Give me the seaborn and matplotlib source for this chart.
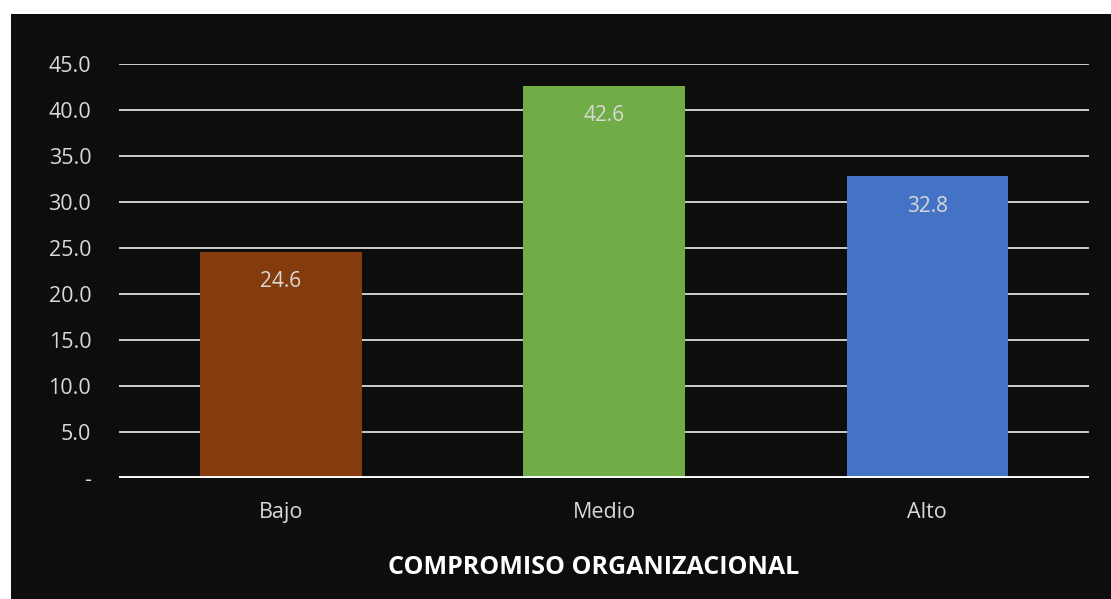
import matplotlib
matplotlib.use('Agg')
import matplotlib.pyplot as plt
import seaborn as sns
import pandas as pd
from matplotlib.patches import Rectangle

# data
niveles = ['Bajo', 'Medio', 'Alto']
porcentajes = [24.6, 42.6, 32.8]
colores = ['#843C0C', '#70AD47', '#4472C4']
y_ticks = [0, 5, 10, 15, 20, 25, 30, 35, 40, 45]
y_labels = ['-'] + [f'{t:.1f}' for t in y_ticks[1:]]

df = pd.DataFrame({'Nivel': niveles, 'Porcentaje': porcentajes})

sns.set_style("dark")
plt.rcParams['font.family'] = ['Open Sans', 'DejaVu Sans']

fig = plt.figure(figsize=(11.11, 5.99), dpi=100)
fig.patch.set_facecolor('white')
# dark panel (leaves a thin white margin at top and left)
fig.add_artist(Rectangle((11 / 1111, 0), 1 - 11 / 1111, 1 - 14 / 599,
                         transform=fig.transFigure, facecolor='#0d0d0d',
                         edgecolor='none', zorder=-10))

ax = fig.add_axes([119 / 1111, 1 - 478 / 599, 970 / 1111, 414 / 599])
ax.set_facecolor('none')

sns.barplot(data=df, x='Nivel', y='Porcentaje', hue='Nivel', palette=colores,
            width=0.5, legend=False, ax=ax, zorder=3, saturation=1,
            linewidth=0, edgecolor='none')

for c in ax.containers:
    ax.bar_label(c, fmt='%.1f', padding=-29, color='#d9d9d9', fontsize=15)

ax.set_ylim(0, 45)
ax.set_xlim(-0.5, 2.5)
ax.set_yticks(y_ticks)
ax.set_yticklabels(y_labels)
ax.set_axisbelow(True)
ax.yaxis.grid(True, color='white', linewidth=1.1)
ax.xaxis.grid(False)
ax.axhline(0, color='white', linewidth=2.8, zorder=4)
for s in ax.spines.values():
    s.set_visible(False)

ax.tick_params(axis='y', colors='#d9d9d9', labelsize=15.5, length=0, pad=20)
ax.tick_params(axis='x', colors='#d9d9d9', labelsize=15.5, length=0, pad=17)
ax.set_ylabel('')
ax.set_xlabel('COMPROMISO ORGANIZACIONAL', color='white', fontsize=18,
              fontweight='bold')
ax.xaxis.set_label_coords(0.489, -0.187)

fig.savefig('out.png', dpi=100, facecolor=fig.get_facecolor())
